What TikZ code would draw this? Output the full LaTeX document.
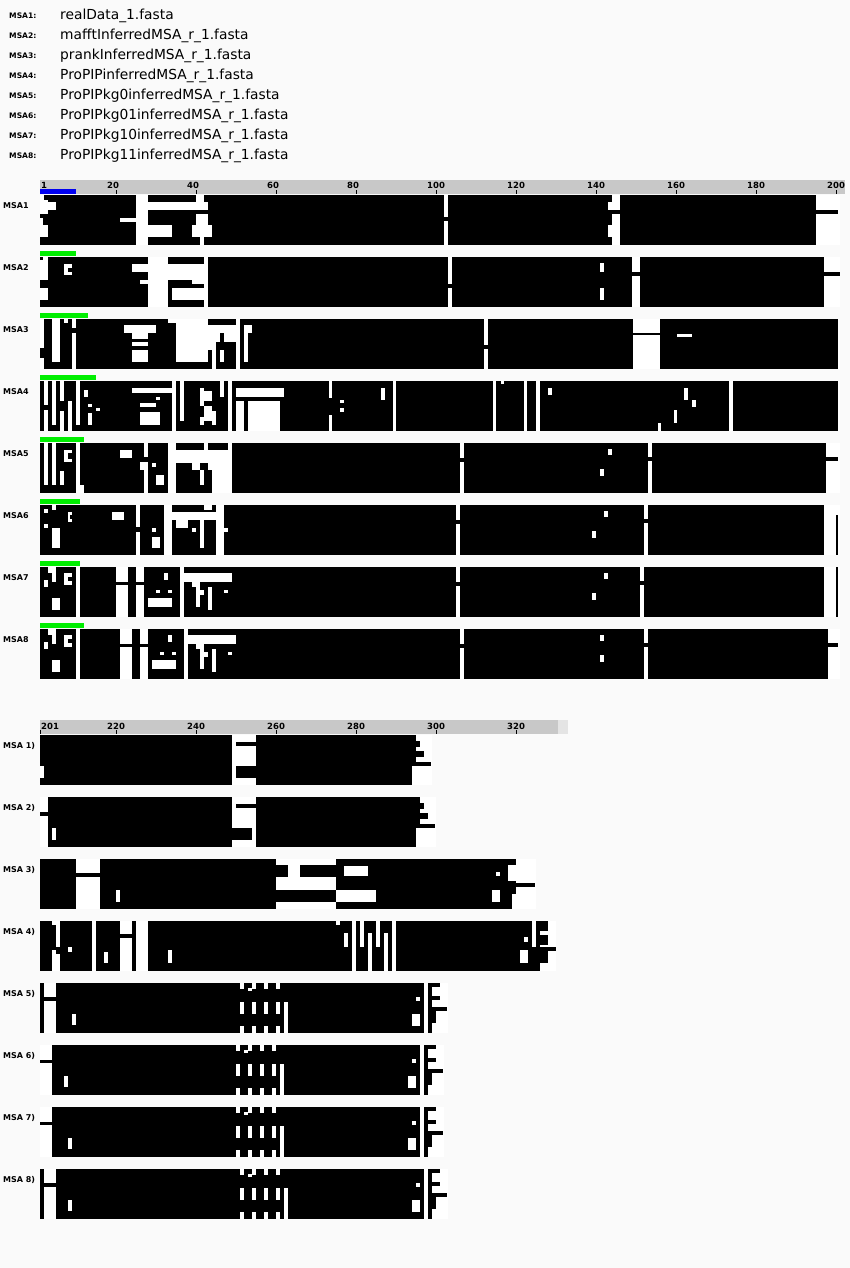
\documentclass[tikz,border=0pt]{standalone}
\usepackage{fontspec}
\setmainfont{DejaVu Sans}
\usetikzlibrary{positioning}
\definecolor{pagebg}{HTML}{FAFAFA}
\definecolor{rulegray}{HTML}{C8C8C8}
\definecolor{rulepale}{HTML}{E4E4E4}
\definecolor{seqblue}{HTML}{0000F0}
\definecolor{seqgreen}{HTML}{00EE00}
\colorlet{B}{black}
\colorlet{W}{white}
\tikzset{
  fname/.style={anchor=base west,inner sep=0pt,font=\fontsize{13.8}{15}\selectfont},
  legtag/.style={anchor=base west,inner sep=0pt,font=\fontsize{7.6}{8}\selectfont\bfseries},
  rowtag/.style={anchor=base west,inner sep=0pt,font=\fontsize{8}{9}\selectfont\bfseries},
  ticknum/.style={anchor=base west,inner sep=0pt,font=\fontsize{8.5}{9}\selectfont\bfseries},
  ruler/.style={fill=rulegray},
  refbar/.style={fill=seqblue},
  hitbar/.style={fill=seqgreen}
}
% one alignment block: top, right edge, cells colour/x1/y1/x2/y2
\newcommand{\msarow}[3]{%
  \begin{scope}[shift={(0,#1)}]
    \fill[white] (40,0) rectangle (#2,50);
    \foreach \cl/\xa/\ya/\xb/\yb in {#3} {\fill[\cl] (\xa,\ya) rectangle (\xb,\yb);}
  \end{scope}}
% gappy columns 236-288 of the second half
\newcommand{\stripes}[2]{%
  \begin{scope}[shift={(#2,#1)}]
    \fill[black] (236,0) rectangle (288,50);
    \foreach \xa in {240,252,264,276} {
      \fill[white] (\xa,0) rectangle ++(4,6);
      \fill[white] (\xa,19) rectangle ++(4,12);
      \fill[white] (\xa,43) rectangle ++(4,7);}
    \fill[white] (248,5) rectangle ++(4,3);
    \fill[white] (284,19) rectangle (288,50);
  \end{scope}}
% ragged right end of the second half
\newcommand{\tailend}[2]{%
  \begin{scope}[shift={(#2,#1)}]
    \fill[black] (412,0) rectangle (424,50);
    \fill[white] (416,14) rectangle (420,18);
    \fill[white] (412,31) rectangle (420,43);
    \fill[black] (428,0) rectangle (432,50);
    \fill[black] (432,0) rectangle (440,4);
    \fill[black] (432,13) rectangle (440,17);
    \fill[black] (432,24) rectangle (447,28);
    \fill[black] (432,28) rectangle (436,40);
  \end{scope}}

\begin{document}
\begin{tikzpicture}[x=1pt,y=-1pt]
\fill[pagebg] (0,0) rectangle (850,1268);
\useasboundingbox (0,0) rectangle (850,1268);

% legend
\foreach \i/\f in {1/realData\_1.fasta,2/mafftInferredMSA\_r\_1.fasta,
    3/prankInferredMSA\_r\_1.fasta,4/ProPIPinferredMSA\_r\_1.fasta,
    5/ProPIPkg0inferredMSA\_r\_1.fasta,6/ProPIPkg01inferredMSA\_r\_1.fasta,
    7/ProPIPkg10inferredMSA\_r\_1.fasta,8/ProPIPkg11inferredMSA\_r\_1.fasta} {
  \node[legtag] (tag\i) at (9,{19+20*(\i-1)}) {MSA\i:};
  \node[fname] (file\i) at (60,{19.5+20*(\i-1)}) {\f};
}

% ruler 1..200
\fill[ruler] (40,180) rectangle (845,194);
\node[ticknum] (ta1) at (41,189) {1};
\fill (40,190) rectangle ++(1,4);
\foreach \n in {20,40,...,200} {
  \fill ({36+4*\n},190) rectangle ++(1,4);
  \node[ticknum] (ta\n) at ({27+4*\n},189) {\n};
}
\fill[refbar] (40,189) rectangle (76,194);

% first half blocks
\foreach \i/\w in {2/76,3/88,4/96,5/84,6/80,7/80,8/84}
  \fill[hitbar] (40,{189+62*(\i-1)}) rectangle (\w,{194+62*(\i-1)});
\foreach \i in {1,...,8}
  \node[rowtag] (row\i) at (3,{208+62*(\i-1)}) {MSA\i};

\msarow{195}{840}{B/40/0/816/50,
  W/40/0/44/5,W/40/5/48/19,W/48/7/56/15,W/40/23/43/30,W/40/30/48/42,
  W/136/0/148/50,W/136/7/208/15,W/196/0/204/7,W/120/23/136/27,W/148/30/172/42,
  W/196/19/208/30,W/192/30/212/42,W/200/42/204/50,
  W/444/0/448/22,W/444/26/448/50,
  W/612/0/620/15,W/608/7/612/15,W/612/19/620/50,W/608/30/612/42,
  B/816/15/838/19}
\msarow{257}{840}{B/40/0/824/50,
  W/43/0/48/3,W/40/3/48/23,W/40/31/48/43,W/64/7/72/18,B/68/11/72/15,
  W/148/0/168/50,W/132/7/208/15,W/168/15/204/23,W/140/23/148/27,W/192/23/204/27,
  W/172/31/208/43,W/204/0/208/50,
  W/448/0/452/27,W/448/31/452/50,W/600/6/604/15,W/600/31/604/43,
  W/632/0/640/15,W/632/19/640/50,B/824/15/840/19}
\msarow{319}{840}{B/40/0/838/50,
  W/40/0/44/29,W/40/39/44/50,W/52/0/60/43,W/64/0/68/4,W/72/0/76/9,W/72/14/76/50,
  W/124/6/156/14,W/132/14/148/20,W/132/23/148/27,W/132/31/148/43,
  W/176/0/208/43,W/168/0/176/4,W/208/6/252/14,B/240/6/244/14,W/208/14/220/23,
  W/224/14/240/23,W/208/23/216/31,W/212/31/216/50,W/220/31/224/43,
  W/236/0/240/50,W/244/14/248/43,
  W/484/0/488/26,W/484/30/488/50,
  W/633/0/660/14,W/633/16/660/50,W/677/15/692/18}
\msarow{381}{840}{B/40/0/838/50,
  W/44/0/48/24,W/44/29/48/50,W/52/0/56/44,W/60/0/64/20,W/60/30/64/50,
  W/68/20/72/50,W/76/0/80/44,
  W/84/9/88/16,W/88/23/92/26,W/96/27/100/30,W/88/32/92/44,
  W/132/7/172/12,W/140/22/156/26,W/140/31/160/44,W/156/16/160/19,
  W/172/0/176/50,W/180/0/184/40,
  W/200/7/204/25,W/200/36/204/44,W/204/10/212/20,W/204/25/212/40,W/212/30/216/44,
  W/220/0/224/16,W/228/0/232/50,
  W/236/7/284/16,W/236/20/244/50,W/248/20/280/50,
  W/329/0/332/17,W/329/34/332/50,W/340/19/344/22,W/340/27/344/31,
  W/381/7/385/19,W/393/0/396/50,
  W/493/0/496/50,W/501/0/504/3,W/524/0/527/50,W/536/0/540/50,W/548/7/552/14,
  W/658/42/661/50,W/674/29/677/42,W/684/7/688/19,W/692/19/696/26,W/729/0/733/50}
\msarow{443}{840}{B/40/0/826/50,
  W/44/0/48/42,W/52/0/56/42,W/60/28/64/42,W/64/7/72/19,B/68/10/72/16,
  W/76/0/80/42,W/76/42/84/50,
  W/120/7/132/15,W/144/0/148/14,W/140/19/148/27,W/144/27/148/50,
  W/152/20/156/24,W/156/32/164/42,
  W/168/0/176/50,W/176/7/228/20,W/204/0/208/7,W/192/20/200/27,
  W/208/20/232/27,W/200/27/204/42,W/212/27/228/50,W/228/0/232/50,
  W/460/0/464/15,W/460/19/464/50,W/608/6/612/12,W/600/26/604/33,
  W/648/0/652/14,W/648/18/652/50,B/826/14/838/18}
\msarow{505}{840}{B/40/0/824/50,
  W/44/4/48/8,W/52/0/56/5,W/44/19/48/23,W/52/23/60/43,
  W/68/7/72/17,B/70/10/72/14,W/112/7/124/15,W/136/0/140/22,W/136/27/140/50,
  W/152/23/156/27,W/152/32/160/43,W/164/0/172/50,W/172/7/224/15,
  W/204/0/212/5,W/216/0/224/50,W/224/23/228/27,W/176/15/188/23,
  W/192/23/196/27,W/200/15/204/43,
  W/456/0/460/15,W/456/19/460/50,W/604/6/608/12,W/592/26/596/33,
  W/644/0/648/14,W/644/18/648/50,B/836/10/838/50}
\msarow{567}{840}{B/40/0/824/50,
  W/44/13/48/20,W/48/0/52/6,W/52/0/56/15,W/52/31/60/43,W/64/6/72/18,
  B/68/10/72/14,W/76/0/80/50,
  W/116/0/128/15,W/116/18/128/50,W/136/0/144/15,W/136/18/144/50,
  W/164/6/168/13,W/156/23/160/26,W/168/23/172/26,W/148/31/172/40,
  W/180/0/184/50,W/184/6/232/15,W/192/15/200/20,W/196/20/200/40,
  W/200/23/204/28,W/208/20/212/43,W/224/23/228/26,
  W/456/0/460/15,W/456/19/460/50,W/604/6/608/12,W/592/26/596/33,
  W/640/0/644/14,W/640/18/644/50,B/836/0/838/50}
\msarow{629}{840}{B/40/0/828/50,
  W/44/13/48/20,W/48/0/52/6,W/52/0/56/15,W/52/31/60/43,W/64/6/72/18,
  B/68/10/72/14,W/76/0/80/50,
  W/120/0/132/15,W/120/18/132/50,W/140/0/148/15,W/140/18/148/50,
  W/168/6/172/13,W/160/23/164/26,W/172/23/176/26,W/152/31/176/40,
  W/184/0/188/50,W/188/6/236/15,W/196/15/204/20,W/200/20/204/40,
  W/204/23/208/28,W/212/20/216/43,W/228/23/232/26,
  W/460/0/464/15,W/460/19/464/50,W/600/6/604/12,W/600/26/604/33,
  W/644/0/648/14,W/644/18/648/50,B/828/14/838/18}

% ruler 201..330
\fill[ruler] (40,720) rectangle (558,734);
\fill[rulepale] (558,720) rectangle (568,734);
\node[ticknum] (tb201) at (41,729) {201};
\fill (40,730) rectangle ++(1,4);
\foreach \n in {220,240,...,320} {
  \fill ({4*\n-764},730) rectangle ++(1,4);
  \node[ticknum] (tb\n) at ({4*\n-773},729) {\n};
}

% second half blocks
\foreach \i in {1,...,8}
  \node[rowtag] (rowb\i) at (3,{748+62*(\i-1)}) {MSA \i)};

\msarow{735}{432}{B/40/0/232/50,B/256/0/412/50,W/40/31/44/43,
  B/236/7/256/11,B/236/31/256/43,
  B/412/0/416/27,B/416/6/420/12,B/416/16/424/22,B/412/27/431/31}
\msarow{797}{436}{B/48/0/232/50,B/40/15/48/19,W/52/31/56/43,
  B/236/7/256/11,B/232/31/252/43,B/256/0/416/50,
  B/416/0/420/27,B/420/6/424/12,B/420/16/428/22,B/416/27/435/31}
\msarow{859}{536}{B/40/0/76/50,B/76/14/100/18,B/100/0/276/50,W/116/31/120/43,
  B/276/6/288/18,B/300/6/336/18,B/276/31/336/43,
  B/336/0/516/50,W/344/7/368/17,W/336/31/376/43,W/496/13/500/17,W/492/31/500/43,
  W/508/6/516/22,W/512/35/516/50,B/516/24/535/28}
\msarow{921}{556}{B/40/0/540/50,
  W/52/0/56/4,W/52/29/56/50,W/56/0/60/26,W/56/33/60/50,W/68/26/72/31,
  W/92/0/96/50,W/104/31/108/42,W/120/0/132/13,W/120/17/132/50,
  W/136/0/148/50,W/168/29/172/42,
  W/336/0/340/4,W/344/12/348/26,W/352/0/356/50,W/360/0/364/26,
  W/368/12/372/50,W/376/0/380/26,W/384/12/388/50,W/392/0/396/50,
  W/524/16/528/21,W/520/29/528/42,W/532/0/536/26,
  B/540/0/548/10,B/540/14/548/24,B/540/26/556/30,B/540/30/548/42}
\msarow{983}{448}{B/40/0/44/50,B/44/14/56/18,B/56/0/236/50,W/72/31/76/42,
  B/284/0/288/19,B/288/0/412/50}
\stripes{983}{0}
\tailend{983}{0}
\msarow{1045}{444}{B/40/15/52/18,B/52/0/232/50,W/64/31/68/42,
  B/280/0/284/19,B/284/0/408/50}
\stripes{1045}{-4}
\tailend{1045}{-4}
\msarow{1107}{444}{B/40/15/52/18,B/52/0/232/50,W/68/31/72/42,
  B/280/0/284/19,B/284/0/408/50}
\stripes{1107}{-4}
\tailend{1107}{-4}
\msarow{1169}{448}{B/40/0/44/50,B/44/14/56/18,B/56/0/236/50,W/68/31/72/42,
  B/284/0/288/19,B/288/0/412/50}
\stripes{1169}{0}
\tailend{1169}{0}
\end{tikzpicture}
\end{document}
